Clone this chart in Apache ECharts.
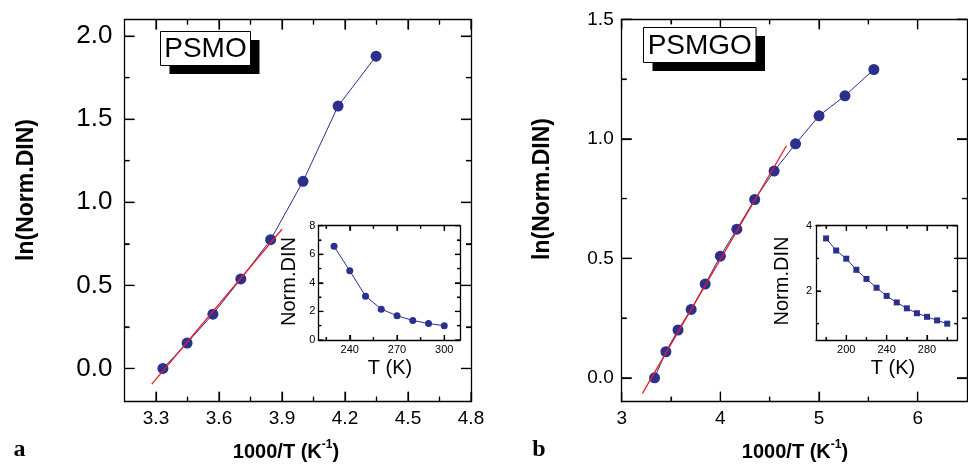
<!DOCTYPE html>
<html>
<head>
<meta charset="utf-8">
<script src="https://cdn.jsdelivr.net/npm/echarts@6/dist/echarts.min.js"></script>
<style>
  html, body { margin: 0; padding: 0; background: #fff; }
  #chart { width: 968px; height: 467px; }
</style>
</head>
<body>
<div id="chart"></div>
<script>
// ---- Panel a: PSMO ----
const psmoInvT   = [3.333, 3.448, 3.571, 3.704, 3.846, 4.000, 4.167, 4.348];
const psmoLnDIN  = [0.00, 0.153, 0.327, 0.539, 0.775, 1.126, 1.579, 1.879];
const psmoFitX   = [3.28, 3.90];
const psmoFitY   = [-0.094, 0.838];
const psmoT      = [230, 240, 250, 260, 270, 280, 290, 300];
const psmoDIN    = [6.56, 4.84, 3.07, 2.16, 1.70, 1.37, 1.15, 1.00];

// ---- Panel b: PSMGO ----
const psmgoInvT  = [3.333, 3.448, 3.571, 3.704, 3.846, 4.000, 4.167, 4.348, 4.545, 4.762, 5.000, 5.263, 5.556];
const psmgoLnDIN = [0.00, 0.109, 0.200, 0.286, 0.392, 0.509, 0.622, 0.746, 0.865, 0.979, 1.096, 1.180, 1.290];
const psmgoFitX  = [3.21, 4.67];
const psmgoFitY  = [-0.065, 0.971];
const psmgoT     = [180, 190, 200, 210, 220, 230, 240, 250, 260, 270, 280, 290, 300];
const psmgoDIN   = [3.61, 3.24, 2.99, 2.65, 2.37, 2.10, 1.85, 1.65, 1.47, 1.32, 1.21, 1.10, 1.00];

// ---- Tick values ----
const aMainXMajor = [3.3, 3.6, 3.9, 4.2, 4.5, 4.8];
const aMainXMinor = [3.45, 3.75, 4.05, 4.35, 4.65];
const aMainYMajor = [0, 0.5, 1.0, 1.5, 2.0];
const aMainYMinor = [0.25, 0.75, 1.25, 1.75];
const aInsXMajor  = [240, 270, 300];
const aInsXMinor  = [225, 255, 285];
const aInsYMajor  = [0, 2, 4, 6, 8];
const aInsYMinor  = [1, 3, 5, 7];

const bMainXMajor = [3, 4, 5, 6];
const bMainXMinor = [3.5, 4.5, 5.5];
const bMainYMajor = [0, 0.5, 1.0, 1.5];
const bMainYMinor = [0.25, 0.75, 1.25];
const bInsXMajor  = [200, 240, 280];
const bInsXMinor  = [180, 220, 260, 300];
const bInsYMajor  = [2, 4];
const bInsYMinor  = [1, 3];

const FONT = "'Liberation Sans', Arial, Helvetica, sans-serif";
const BLUE = '#2B2F8E';
const RED  = '#E41E26';

const zip = (xs, ys) => xs.map((x, i) => [x, ys[i]]);
const fmt1 = v => v.toFixed(1);
const fmt0 = v => String(Math.round(v));

const xAxes = [];
const yAxes = [];
const panels = [];

// One dimension of a boxed frame: labelled axis with major ticks, a tick-only
// axis for minor ticks, both mirrored on the opposite side.
function addAxes(gridIndex, dim, cfg) {
  const list = dim === 'x' ? xAxes : yAxes;
  const sides = dim === 'x' ? ['bottom', 'top'] : ['left', 'right'];
  const mainIndex = list.length;
  const make = (pos, ticks, len, withLabels, withLine) => ({
    type: 'value', gridIndex, position: pos, min: cfg.min, max: cfg.max,
    axisLine: { show: withLine, onZero: false, lineStyle: { color: '#000', width: 1.3 } },
    axisTick: { show: true, inside: true, length: len, customValues: ticks,
                lineStyle: { color: '#000', width: 1.2 } },
    axisLabel: { show: withLabels, customValues: ticks, formatter: cfg.fmt,
                 fontSize: cfg.labelSize, margin: cfg.labelMargin, color: '#000', fontFamily: FONT },
    splitLine: { show: false }, minorTick: { show: false }, minorSplitLine: { show: false }
  });
  sides.forEach((pos, k) => {
    list.push(make(pos, cfg.major, cfg.majorLen, k === 0, true));
    list.push(make(pos, cfg.minor, cfg.minorLen, false, false));
  });
  return mainIndex;
}
function addPanel(gridIndex, xcfg, ycfg) {
  const p = { gridIndex, xi: addAxes(gridIndex, 'x', xcfg), yi: addAxes(gridIndex, 'y', ycfg), xcfg, ycfg };
  panels.push(p);
  return p;
}

const grids = [
  { left: 124.5, top: 19.5, width: 346.5, height: 382.2 },   // a main
  { left: 318.3, top: 225.7, width: 141.7, height: 114.3 },  // a inset
  { left: 621.7, top: 19.3, width: 345.3, height: 382.4 },   // b main
  { left: 816.0, top: 225.7, width: 141.3, height: 114.3 }   // b inset
].map(g => Object.assign({ containLabel: false, outerBoundsMode: 'none' }, g));

const pA = addPanel(0,
  { min: 3.15, max: 4.8, major: aMainXMajor, minor: aMainXMinor, majorLen: 10, minorLen: 5, labelSize: 19, labelMargin: 8, fmt: fmt1 },
  { min: -0.2, max: 2.1, major: aMainYMajor, minor: aMainYMinor, majorLen: 10, minorLen: 5, labelSize: 26, labelMargin: 12, fmt: fmt1 });
const pAi = addPanel(1,
  { min: 220, max: 310, major: aInsXMajor, minor: aInsXMinor, majorLen: 5, minorLen: 3, labelSize: 11, labelMargin: 4, fmt: fmt0 },
  { min: 0, max: 8, major: aInsYMajor, minor: aInsYMinor, majorLen: 5, minorLen: 3, labelSize: 11, labelMargin: 3, fmt: fmt0 });
const pB = addPanel(2,
  { min: 3, max: 6.5, major: bMainXMajor, minor: bMainXMinor, majorLen: 10, minorLen: 5, labelSize: 19, labelMargin: 8, fmt: fmt0 },
  { min: -0.1, max: 1.5, major: bMainYMajor, minor: bMainYMinor, majorLen: 10, minorLen: 5, labelSize: 19, labelMargin: 8, fmt: fmt1 });
const pBi = addPanel(3,
  { min: 170, max: 310, major: bInsXMajor, minor: bInsXMinor, majorLen: 5, minorLen: 3, labelSize: 11, labelMargin: 4, fmt: fmt0 },
  { min: 0.5, max: 4, major: bInsYMajor, minor: bInsYMinor, majorLen: 5, minorLen: 3, labelSize: 11, labelMargin: 4, fmt: fmt0 });

const dataLine = (p, data, symbol, size) => ({
  type: 'line', xAxisIndex: p.xi, yAxisIndex: p.yi, data, symbol, symbolSize: size,
  showSymbol: true,
  lineStyle: { color: BLUE, width: 1 }, itemStyle: { color: BLUE, borderWidth: 0 }
});
const fitLine = (p, data) => ({
  type: 'line', xAxisIndex: p.xi, yAxisIndex: p.yi, data, symbol: 'none', z: 4,
  lineStyle: { color: RED, width: 1.3 }
});

// Sample name tag with a drop shadow
function tagBox(x, y, w, h, text) {
  return [
    { type: 'rect', shape: { x: x + 9, y: y + 8.5, width: w, height: h }, style: { fill: '#000' }, z: 10 },
    { type: 'rect', shape: { x, y, width: w, height: h }, style: { fill: '#fff', stroke: '#000', lineWidth: 1 }, z: 11 },
    { type: 'text', x: x + w / 2, y: y + h / 2 + 1, z: 12,
      style: { text, font: '28px ' + FONT, fill: '#000', align: 'center', verticalAlign: 'middle',
               textAlign: 'center', textVerticalAlign: 'middle' } }
  ];
}
function txt(x, y, text, font, rot, align) {
  const a = align || 'center';
  return { type: 'text', x, y, rotation: rot || 0, z: 12,
    style: { text, font, fill: '#000', align: a, verticalAlign: 'middle',
             textAlign: a, textVerticalAlign: 'middle' } };
}

// "1000/T (K⁻¹)" built from plain text pieces with a raised exponent
const measureCtx = document.createElement('canvas').getContext('2d');
function textWidth(s, font) { measureCtx.font = font; return measureCtx.measureText(s).width; }
function xTitle(cx, cy) {
  const fMain = 'bold 20px ' + FONT, fSup = 'bold 12px ' + FONT;
  const p1 = '1000/T (K', p2 = '-1', p3 = ')';
  const w1 = textWidth(p1, fMain), w2 = textWidth(p2, fSup), w3 = textWidth(p3, fMain);
  const x0 = cx - (w1 + w2 + w3) / 2;
  return [
    txt(x0, cy, p1, fMain, 0, 'left'),
    txt(x0 + w1, cy - 7, p2, fSup, 0, 'left'),
    txt(x0 + w1 + w2, cy, p3, fMain, 0, 'left')
  ];
}

const labels = [].concat(
  tagBox(160.5, 31.5, 90, 34, 'PSMO'),
  tagBox(643.5, 27.5, 112.5, 35, 'PSMGO'),
  xTitle(286, 452),
  xTitle(795, 452),
  [
    txt(27, 190, 'ln(Norm.DIN)', 'bold 23px ' + FONT, Math.PI / 2),
    txt(542.5, 189, 'ln(Norm.DIN)', 'bold 23px ' + FONT, Math.PI / 2),
    txt(289, 281.5, 'Norm.DIN', '20px ' + FONT, Math.PI / 2),
    txt(782.5, 281, 'Norm.DIN', '20px ' + FONT, Math.PI / 2),
    txt(390, 368, 'T (K)', '20px ' + FONT, 0),
    txt(893, 368, 'T (K)', '20px ' + FONT, 0),
    txt(19.5, 450, 'a', "bold 24px 'Liberation Serif', 'Times New Roman', serif", 0),
    txt(539, 450, 'b', "bold 24px 'Liberation Serif', 'Times New Roman', serif", 0)
  ]
);

const chart = echarts.init(document.getElementById('chart'), null, { renderer: 'canvas' });
chart.setOption({
  animation: false,
  grid: grids,
  xAxis: xAxes,
  yAxis: yAxes,
  series: [
    dataLine(pA, zip(psmoInvT, psmoLnDIN), 'circle', 11),
    fitLine(pA, zip(psmoFitX, psmoFitY)),
    dataLine(pAi, zip(psmoT, psmoDIN), 'circle', 7),
    dataLine(pB, zip(psmgoInvT, psmgoLnDIN), 'circle', 11),
    fitLine(pB, zip(psmgoFitX, psmgoFitY)),
    dataLine(pBi, zip(psmgoT, psmgoDIN), 'rect', 6)
  ]
});

// Inward tick marks on all four sides of each frame, positioned through the
// grid's own coordinate conversion and drawn as thin filled bars.
const ticks = [];
panels.forEach(p => {
  const P = (xv, yv) => chart.convertToPixel({ gridIndex: p.gridIndex }, [xv, yv]);
  const lo = P(p.xcfg.min, p.ycfg.min), hi = P(p.xcfg.max, p.ycfg.max);
  if (!lo || !hi) return;
  const xl = lo[0], yb = lo[1], xr = hi[0], yt = hi[1];
  const bar = (x, y, w, h) => ticks.push({ type: 'rect', silent: true, z: 8,
    shape: { x, y, width: w, height: h }, style: { fill: '#000' } });
  const t = 1.2;
  [[p.xcfg.major, p.xcfg.majorLen], [p.xcfg.minor, p.xcfg.minorLen]].forEach(([vals, len]) =>
    vals.forEach(v => {
      const q = P(v, p.ycfg.min);
      if (!q) return;
      bar(q[0] - t / 2, yb - len, t, len);
      bar(q[0] - t / 2, yt, t, len);
    }));
  [[p.ycfg.major, p.ycfg.majorLen], [p.ycfg.minor, p.ycfg.minorLen]].forEach(([vals, len]) =>
    vals.forEach(v => {
      const q = P(p.xcfg.min, v);
      if (!q) return;
      bar(xl, q[1] - t / 2, len, t);
      bar(xr - len, q[1] - t / 2, len, t);
    }));
});

chart.setOption({ graphic: labels.concat(ticks) });
</script>
</body>
</html>
